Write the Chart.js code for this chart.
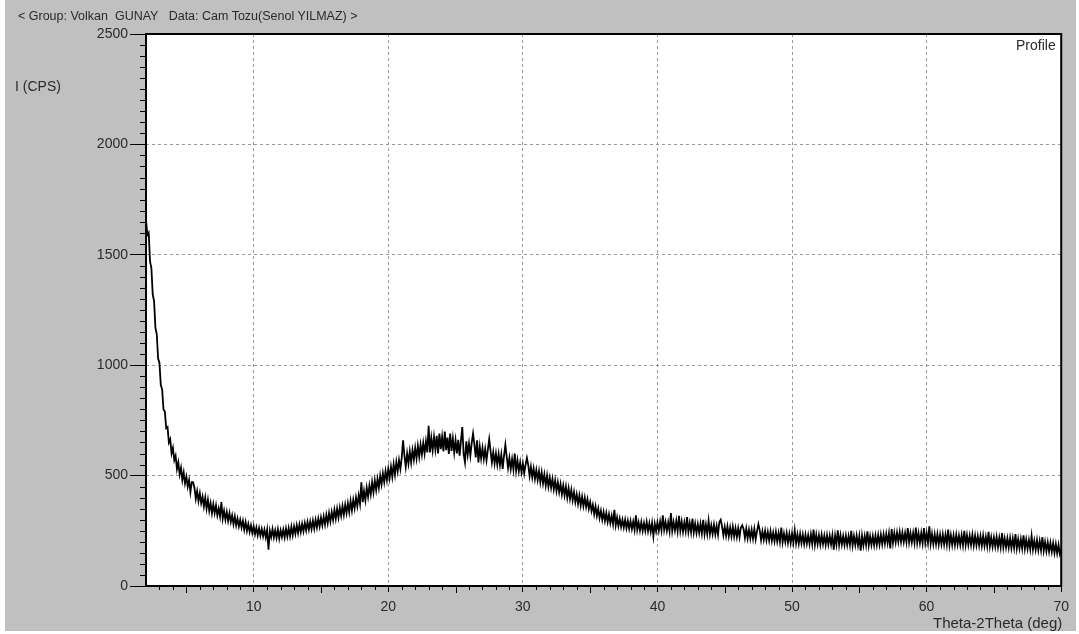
<!DOCTYPE html>
<html>
<head>
<meta charset="utf-8">
<script src="https://cdn.jsdelivr.net/npm/chart.js@4.4.0/dist/chart.umd.min.js"></script>
<style>
  body { margin: 0; background: #ffffff; width: 1079px; height: 634px; overflow: hidden; position: relative; font-family: "Liberation Sans", Arial, sans-serif; }
  #box { position: absolute; left: 5px; top: 0px; width: 1071px; height: 631px; background: #c0c0c0; }
  #xrd { position: absolute; left: 0; top: 0; }
  .lbl { position: absolute; color: #2a2a2a; white-space: pre; line-height: 1; }
</style>
</head>
<body>
<div id="box">
  <canvas id="xrd" width="1071" height="631"></canvas>
  <div class="lbl" style="left:13px; top:10px; font-size:12.5px;">&lt; Group: Volkan  GUNAY   Data: Cam Tozu(Senol YILMAZ) &gt;</div>
  <div class="lbl" style="left:10px; top:79px; font-size:14px;">I (CPS)</div>
  <div class="lbl" style="left:1011px; top:38px; font-size:14px;">Profile</div>
  <div class="lbl" style="left:928px; top:615px; font-size:15px;">Theta-2Theta (deg)</div>
</div>
<script>
// scan settings (deg)
var startAngle = 2
var stepAngle = 0.1

var intensity = [
    1660, 1590, 1600, 1470, 1440, 1320, 1290, 1170, 1140, 1030,
    1010, 910, 890, 800, 790, 715, 720, 650, 665, 600,
    625, 570, 590, 530, 560, 505, 535, 480, 515, 465,
    495, 450, 480, 425, 470, 470, 445, 395, 430, 385,
    420, 375, 405, 360, 400, 350, 390, 340, 375, 330,
    370, 330, 365, 320, 350, 315, 380, 305, 340, 300,
    335, 295, 330, 290, 320, 280, 315, 275, 305, 270,
    300, 265, 295, 255, 290, 250, 280, 245, 275, 240,
    270, 235, 265, 230, 262, 228, 258, 225, 255, 220,
    255, 165, 250, 222, 258, 220, 252, 218, 256, 215,
    252, 222, 255, 220, 260, 224, 262, 226, 268, 230,
    270, 236, 275, 240, 278, 245, 282, 248, 285, 252,
    290, 255, 292, 258, 296, 260, 300, 265, 305, 270,
    310, 275, 315, 278, 322, 285, 330, 292, 335, 300,
    345, 305, 350, 310, 355, 318, 362, 322, 368, 330,
    375, 335, 385, 342, 390, 352, 400, 362, 410, 372,
    470, 380, 430, 388, 445, 405, 455, 415, 470, 425,
    478, 435, 485, 445, 500, 460, 510, 470, 520, 480,
    530, 488, 540, 495, 552, 505, 562, 520, 570, 530,
    580, 660, 590, 540, 600, 555, 610, 560, 615, 572,
    625, 578, 635, 585, 640, 595, 648, 600, 655, 605,
    725, 605, 670, 615, 675, 618, 680, 600, 690, 620,
    675, 610, 700, 615, 672, 598, 690, 612, 668, 605,
    660, 600, 662, 590, 658, 720, 598, 560, 655, 595,
    645, 590, 648, 690, 640, 582, 660, 560, 630, 578,
    625, 575, 620, 570, 618, 665, 612, 560, 605, 555,
    600, 550, 598, 548, 595, 530, 590, 640, 585, 535,
    580, 530, 575, 528, 600, 522, 568, 520, 560, 515,
    555, 510, 550, 580, 548, 498, 540, 492, 532, 485,
    525, 480, 520, 470, 515, 465, 505, 455, 500, 450,
    490, 445, 485, 438, 478, 430, 470, 425, 462, 415,
    455, 410, 450, 400, 442, 395, 435, 388, 425, 380,
    415, 372, 410, 365, 405, 362, 400, 358, 392, 350,
    380, 340, 368, 325, 360, 318, 350, 308, 340, 300,
    335, 295, 330, 290, 325, 285, 318, 280, 345, 275,
    310, 272, 305, 268, 300, 265, 300, 262, 296, 260,
    295, 258, 292, 255, 320, 255, 288, 252, 290, 250,
    285, 250, 290, 248, 284, 246, 286, 225, 282, 248,
    288, 250, 292, 252, 320, 254, 290, 250, 288, 248,
    330, 250, 290, 252, 295, 248, 318, 250, 292, 245,
    288, 248, 312, 245, 285, 244, 305, 242, 282, 240,
    280, 240, 282, 238, 300, 236, 278, 236, 295, 235,
    275, 236, 278, 234, 272, 232, 290, 300, 270, 230,
    268, 228, 270, 226, 265, 225, 268, 224, 262, 222,
    262, 222, 265, 275, 258, 218, 260, 216, 255, 215,
    255, 214, 258, 212, 250, 280, 252, 208, 248, 210,
    250, 208, 245, 206, 248, 205, 242, 203, 245, 202,
    240, 200, 265, 198, 238, 200, 240, 196, 236, 195,
    238, 196, 252, 194, 234, 192, 236, 194, 232, 190,
    232, 192, 230, 190, 234, 190, 255, 188, 232, 190,
    230, 188, 232, 190, 228, 186, 230, 188, 228, 188,
    230, 165, 228, 188, 252, 186, 230, 188, 226, 186,
    228, 186, 226, 186, 250, 184, 226, 186, 228, 184,
    226, 160, 228, 184, 226, 186, 248, 184, 225, 186,
    226, 185, 228, 186, 230, 188, 232, 190, 234, 192,
    236, 194, 238, 170, 258, 196, 240, 198, 242, 200,
    244, 200, 242, 200, 240, 198, 262, 198, 240, 198,
    240, 196, 265, 196, 238, 195, 240, 194, 262, 195,
    238, 195, 270, 192, 236, 190, 234, 190, 235, 188,
    232, 190, 234, 188, 232, 188, 255, 186, 230, 186,
    230, 186, 232, 188, 228, 186, 230, 185, 250, 186,
    230, 186, 228, 186, 232, 184, 228, 185, 226, 184,
    226, 182, 228, 182, 222, 180, 245, 180, 220, 178,
    220, 178, 222, 176, 218, 176, 240, 175, 216, 175,
    216, 174, 218, 172, 215, 172, 235, 170, 212, 170,
    212, 170, 230, 168, 210, 168, 208, 166, 226, 165,
    205, 164, 208, 162, 204, 162, 222, 160, 200, 158,
    198, 156, 196, 155, 194, 150, 190, 148, 186, 145,
    165
]

var xMin = 2
var xMax = 70
var yMin = 0
var yMax = 2500

Chart.defaults.font.family = '"Liberation Sans", Arial, sans-serif'
Chart.defaults.color = '#2a2a2a'

function getPoints(){
    var points = []
    for(var pos = 0; pos < intensity.length; pos++){
        var angle = Math.round((startAngle + pos * stepAngle) * 10) / 10
        points.push({x: angle, y: intensity[pos]})
    }
    return points
}

// white plot area, frame around it, minor ticks
var framePlugin = {
    id: 'frame',
    beforeDraw: function(chart){
        var ctx = chart.ctx
        var a = chart.chartArea
        ctx.save()
        ctx.fillStyle = '#ffffff'
        ctx.fillRect(a.left, a.top, a.right - a.left, a.bottom - a.top)
        ctx.restore()
    },
    afterDatasetsDraw: function(chart){
        var ctx = chart.ctx
        var a = chart.chartArea
        ctx.save()
        ctx.strokeStyle = '#000000'
        ctx.lineWidth = 2
        ctx.strokeRect(a.left, a.top, a.right - a.left, a.bottom - a.top)
        ctx.restore()
    },
    afterDraw: function(chart){
        var ctx = chart.ctx
        var a = chart.chartArea
        var xs = chart.scales.x
        var ys = chart.scales.y
        ctx.save()
        ctx.strokeStyle = '#000000'
        ctx.lineWidth = 1
        ctx.beginPath()
        for(var d = 3; d < xMax; d++){
            if(d % 10 == 0) continue
            var px = Math.round(xs.getPixelForValue(d)) + 0.5
            var len = (d % 5 == 0) ? 7 : 4
            ctx.moveTo(px, a.bottom)
            ctx.lineTo(px, a.bottom + len)
        }
        for(var v = 50; v < yMax; v += 50){
            if(v % 500 == 0) continue
            var py = Math.round(ys.getPixelForValue(v)) + 0.5
            ctx.moveTo(a.left - 6, py)
            ctx.lineTo(a.left, py)
        }
        ctx.stroke()
        ctx.restore()
    }
}

new Chart(document.getElementById('xrd'), {
    type: 'line',
    data: {
        datasets: [{
            label: 'Profile',
            data: getPoints(),
            borderColor: '#000000',
            borderWidth: 1.8,
            pointRadius: 0,
            tension: 0,
            fill: false
        }]
    },
    options: {
        responsive: false,
        animation: false,
        devicePixelRatio: 1,
        layout: { padding: { left: 0, top: 34, right: 10, bottom: 0 } },
        plugins: {
            legend: { display: false },
            tooltip: { enabled: false }
        },
        scales: {
            x: {
                type: 'linear',
                min: xMin,
                max: xMax,
                afterFit: function(scale){ scale.height = 45 },
                ticks: {
                    stepSize: 10,
                    includeBounds: false,
                    padding: 7,
                    maxRotation: 0,
                    font: { size: 14 },
                    color: '#2a2a2a',
                    callback: function(value){ return String(value) }
                },
                grid: {
                    color: '#9a9a9a',
                    tickColor: '#000000',
                    tickLength: 6
                },
                border: { display: false, dash: [3, 3] }
            },
            y: {
                min: yMin,
                max: yMax,
                afterFit: function(scale){ scale.width = 141 },
                ticks: {
                    stepSize: 500,
                    padding: 2,
                    font: { size: 14 },
                    color: '#2a2a2a',
                    callback: function(value){ return String(value) }
                },
                grid: {
                    color: '#9a9a9a',
                    tickColor: '#000000',
                    tickLength: 16
                },
                border: { display: false, dash: [3, 3] }
            }
        }
    },
    plugins: [framePlugin]
})
</script>
</body>
</html>
